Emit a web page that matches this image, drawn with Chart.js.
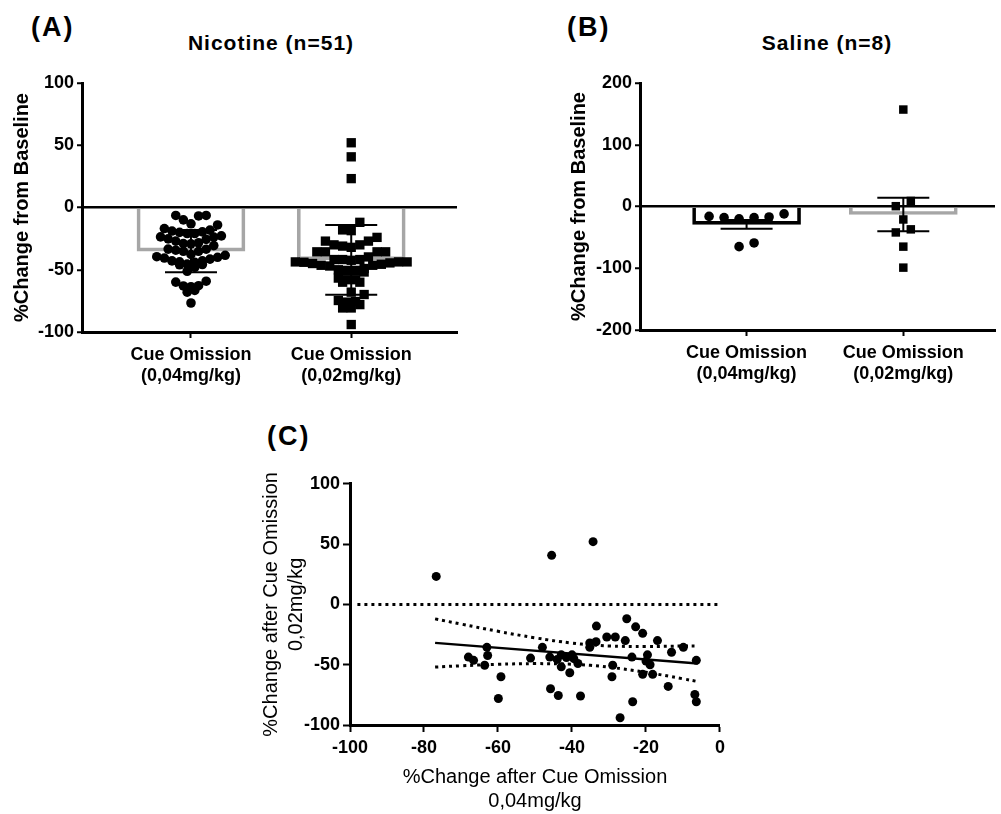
<!DOCTYPE html>
<html>
<head>
<meta charset="utf-8">
<script src="https://cdn.jsdelivr.net/npm/chart.js@4"></script>
<style>
  html, body { margin: 0; padding: 0; background: #fff; width: 1001px; height: 814px; overflow: hidden; }
  canvas { position: absolute; }
  .lbl { position: absolute; font-family: "Liberation Sans", Arial, sans-serif; font-weight: bold; color: #000; white-space: nowrap; }
  .panel { font-size: 27px; line-height: 27px; letter-spacing: 2px; }
  .ttl { font-size: 21px; line-height: 21px; letter-spacing: 1px; transform: translateX(-50%); }
</style>
</head>
<body>
<div class="lbl panel" style="left:31px; top:14px;">(A)</div>
<div class="lbl ttl" style="left:271px; top:32px;">Nicotine (n=51)</div>
<div class="lbl panel" style="left:567px; top:14px;">(B)</div>
<div class="lbl ttl" style="left:827px; top:32px;">Saline (n=8)</div>
<div class="lbl panel" style="left:267px; top:423px;">(C)</div>

<canvas id="chartA" width="470" height="390" style="left:0; top:0;"></canvas>
<canvas id="chartB" width="445" height="390" style="left:556px; top:0;"></canvas>
<canvas id="chartC" width="480" height="344" style="left:250px; top:470px;"></canvas>

<script>
// categories on the x axis of (A) and (B)
const categories = [['Cue Omission', '(0,04mg/kg)'], ['Cue Omission', '(0,02mg/kg)']];

// nicotine animals, % change after cue omission (same animal at same index)
const nicotine004 = [-76.7, -68, -66.6, -63, -62.8, -63.6, -59.2, -59.9, -51.2, -48,
  -46, -44, -42.9, -42.9, -45.8, -43.7, -45.5, -40, -39.5, -38.4,
  -40.6, -37.7, -34.3, -35.2, -33.5, -35.2, -33.4, -30.6, -28.3, -25.6,
  -29, -29.2, -27, -25.2, -22.8, -20.9, -23.8, -23.6, -19.6, -18.9,
  -20.9, -18.2, -16.9, -14, -13.1, -9.9, -6.4, -6.8, -6.4, -41.5, -20];
const nicotine002 = [23.2, -43.7, -46.4, -35.6, -42.4, -50.5, -60, -78, -44.5, -35.6,
  -43.7, -45.6, -41.8, -51.8, -69.9, -75.5, 40.7, -41.8, -45, -49,
  -56.7, -76, 52, -32, -31, -35.6, -18, -27, -27, -30,
  -50.5, -60, -94, -11.9, -18.6, -24, -43.7, -80.7, -41.8, -50,
  -58, -58, -30, -68, -39.7, -35.6, -46.4, -74.7, -80.7, -44, -47];
const nicMean = [-35, -42];
const nicSD = [17, 28];

// saline animals
const saline004 = [-12, -16, -17, -18, -18, -20, -65, -59];
const saline002 = [9, 0.5, -21, -37, -42, -65, -99, 157];
const salMean = [-29, -13];
const salSEM = [7, 27];

// (C) regression line and 95% confidence band
const fitX = [-77, -6];
const fitY = [-31.9, -49];
const bandX = [-77, -70, -60, -50, -40, -35, -30, -20, -10, -6];
const bandUpper = [-12, -16.3, -22.3, -27.7, -32.1, -33.5, -34.5, -34.9, -34.5, -34.5];
const bandLower = [-52, -50.9, -49.7, -49.1, -49.6, -50.5, -52, -56.3, -61.7, -64];
const zeroX = [-98, 0];

Chart.defaults.font.family = '"Liberation Sans", Arial, sans-serif';
Chart.defaults.color = '#000';

const errorBars = {
  id: 'errorBars',
  afterDatasetsDraw(chart, args, opts) {
    if (!opts.means) return;
    const ctx = chart.ctx, x = chart.scales.x, y = chart.scales.y;
    ctx.save();
    ctx.strokeStyle = '#000';
    ctx.lineWidth = 2;
    opts.means.forEach(function (m, i) {
      const px = x.getPixelForValue(i + 1);
      const top = y.getPixelForValue(m + opts.errs[i]);
      const bot = y.getPixelForValue(m - opts.errs[i]);
      ctx.beginPath();
      ctx.moveTo(px, top); ctx.lineTo(px, bot);
      ctx.moveTo(px - 26, top); ctx.lineTo(px + 26, top);
      ctx.moveTo(px - 26, bot); ctx.lineTo(px + 26, bot);
      ctx.stroke();
    });
    ctx.restore();
  }
};

// scatter-dot layout like Prism: points close in value form a row and are spread sideways,
// the lowest values of a row in the middle
function swarm(chart, values, center, rowH, gap) {
  const xs = chart.scales.x, ys = chart.scales.y;
  const cx = xs.getPixelForValue(center);
  const sorted = values.map((v, i) => i).sort((a, b) => values[b] - values[a]);
  const rows = [];
  let cur = null, start = 0;
  sorted.forEach(function (i) {
    const py = ys.getPixelForValue(values[i]);
    if (!cur || py - start >= rowH) { cur = []; rows.push(cur); start = py; }
    cur.push(i);
  });
  const out = [];
  rows.forEach(function (row) {
    const idx = row.slice().sort((a, b) => values[a] - values[b]);
    const n = idx.length;
    const offs = [];
    for (let k = 0; k < n; k++) offs.push((k - (n - 1) / 2) * gap);
    offs.sort((a, b) => Math.abs(a) - Math.abs(b) || a - b);
    idx.forEach(function (i, k) {
      out[i] = { x: xs.getValueForPixel(cx + offs[k]), y: values[i] };
    });
  });
  return out;
}

function groupScales(opt) {
  return {
    x: {
      type: 'linear', min: opt.xmin, max: opt.xmax, offset: false,
      afterBuildTicks: s => { s.ticks = categories.map((c, i) => ({ value: i + 1 })); },
      ticks: { callback: v => categories[v - 1], font: { size: 18, weight: 'bold' }, padding: 6, autoSkip: false, maxRotation: 0 },
      grid: { offset: false, drawOnChartArea: false, tickLength: 6, tickWidth: 2, tickColor: '#000' },
      border: { color: '#000', width: 3 },
      afterFit: s => { s.height = opt.xh; }
    },
    y: {
      min: opt.ymin, max: opt.ymax,
      ticks: { stepSize: opt.step, font: { size: 18, weight: 'bold' }, padding: 3 },
      grid: { color: c => (c.tick && c.tick.value === 0) ? '#000' : 'rgba(0,0,0,0)', lineWidth: 2.5, tickColor: '#000', tickLength: 5, tickWidth: 2 },
      border: { color: '#000', width: 3 },
      title: { display: true, text: '%Change from Baseline', font: { size: 20, weight: 'bold' }, padding: { top: opt.tpad, bottom: 0 } },
      afterFit: s => { s.width = opt.yw; }
    }
  };
}

const basePlugins = { legend: { display: false }, tooltip: { enabled: false } };

// (A) Nicotine
const chartA = new Chart(document.getElementById('chartA'), {
  type: 'scatter',
  data: {
    datasets: [
      { type: 'bar', data: nicMean.map((m, i) => ({ x: i + 1, y: m })), backgroundColor: 'rgba(0,0,0,0)',
        borderColor: '#a6a6a6', borderWidth: 3, borderSkipped: 'start', barThickness: 108, order: 3 },
      { data: nicotine004.map(v => ({ x: 1, y: v })), pointStyle: 'circle', pointRadius: 4.8,
        backgroundColor: '#000', borderWidth: 0, order: 1 },
      { data: nicotine002.map(v => ({ x: 2, y: v })), pointStyle: 'rect', pointRadius: 6.6,
        backgroundColor: '#000', borderWidth: 0, order: 2 }
    ]
  },
  options: {
    responsive: false, animation: false, devicePixelRatio: 1,
    layout: { padding: { top: 83, right: 13, bottom: 0, left: 0 } },
    scales: groupScales({ xmin: 0.32, xmax: 2.66, xh: 58, ymin: -100, ymax: 100, step: 50, yw: 82, tpad: 10 }),
    plugins: Object.assign({ errorBars: { means: nicMean, errs: nicSD } }, basePlugins)
  },
  plugins: [errorBars]
});
chartA.data.datasets[1].data = swarm(chartA, nicotine004, 1, 9, 7.6);
chartA.data.datasets[2].data = swarm(chartA, nicotine002, 2, 10, 8.6);
chartA.update('none');

// (B) Saline
const chartB = new Chart(document.getElementById('chartB'), {
  type: 'scatter',
  data: {
    datasets: [
      { type: 'bar', data: salMean.map((m, i) => ({ x: i + 1, y: m })), backgroundColor: 'rgba(0,0,0,0)',
        borderColor: ['#000', '#a6a6a6'], borderWidth: 3, borderSkipped: 'start', barThickness: 108, order: 3 },
      { data: saline004.map(v => ({ x: 1, y: v })), pointStyle: 'circle', pointRadius: 4.8,
        backgroundColor: '#000', borderWidth: 0, order: 1 },
      { data: saline002.map(v => ({ x: 2, y: v })), pointStyle: 'rect', pointRadius: 6,
        backgroundColor: '#000', borderWidth: 0, order: 2 }
    ]
  },
  options: {
    responsive: false, animation: false, devicePixelRatio: 1,
    layout: { padding: { top: 83, right: 1, bottom: 0, left: 0 } },
    scales: groupScales({ xmin: 0.32, xmax: 2.585, xh: 60, ymin: -200, ymax: 200, step: 100, yw: 84, tpad: 11 }),
    plugins: Object.assign({ errorBars: { means: salMean, errs: salSEM } }, basePlugins)
  },
  plugins: [errorBars]
});
chartB.data.datasets[1].data = swarm(chartB, saline004, 1, 10, 15);
chartB.data.datasets[2].data = swarm(chartB, saline002, 2, 9, 15);
chartB.update('none');

// (C) correlation
const dotted = { showLine: true, pointRadius: 0, borderColor: '#000', borderWidth: 3, borderDash: [3, 4], fill: false };
new Chart(document.getElementById('chartC'), {
  type: 'scatter',
  data: {
    datasets: [
      { data: nicotine004.map((v, i) => ({ x: v, y: nicotine002[i] })), pointStyle: 'circle', pointRadius: 4.5,
        backgroundColor: '#000', borderWidth: 0 },
      { data: fitX.map((v, i) => ({ x: v, y: fitY[i] })), showLine: true, pointRadius: 0, borderColor: '#000', borderWidth: 2.5 },
      Object.assign({ data: bandX.map((v, i) => ({ x: v, y: bandUpper[i] })), tension: 0.4 }, dotted),
      Object.assign({ data: bandX.map((v, i) => ({ x: v, y: bandLower[i] })), tension: 0.4 }, dotted),
      Object.assign({ data: zeroX.map(v => ({ x: v, y: 0 })) }, dotted)
    ]
  },
  options: {
    responsive: false, animation: false, devicePixelRatio: 1,
    layout: { padding: { top: 8, right: 8, bottom: 0, left: 0 } },
    scales: {
      x: {
        min: -100, max: 0,
        ticks: { stepSize: 20, font: { size: 18, weight: 'bold' }, padding: 5 },
        grid: { drawOnChartArea: false, tickLength: 7, tickWidth: 2, tickColor: '#000' },
        border: { color: '#000', width: 3 },
        title: { display: true, text: ['%Change after Cue Omission', '0,04mg/kg'], font: { size: 20, lineHeight: 1.18 }, padding: { top: 0, bottom: 1 } },
        afterFit: s => { s.height = 89; }
      },
      y: {
        min: -100, max: 100,
        ticks: { stepSize: 50, font: { size: 18, weight: 'bold' }, padding: 3 },
        grid: { drawOnChartArea: false, tickLength: 7, tickWidth: 2, tickColor: '#000' },
        border: { color: '#000', width: 3 },
        title: { display: true, text: ['%Change after Cue Omission', '0,02mg/kg'], font: { size: 20, lineHeight: 1.25 }, padding: { top: 9, bottom: 0 } },
        afterFit: s => { s.width = 100; }
      }
    },
    plugins: basePlugins
  }
});
</script>
</body>
</html>
